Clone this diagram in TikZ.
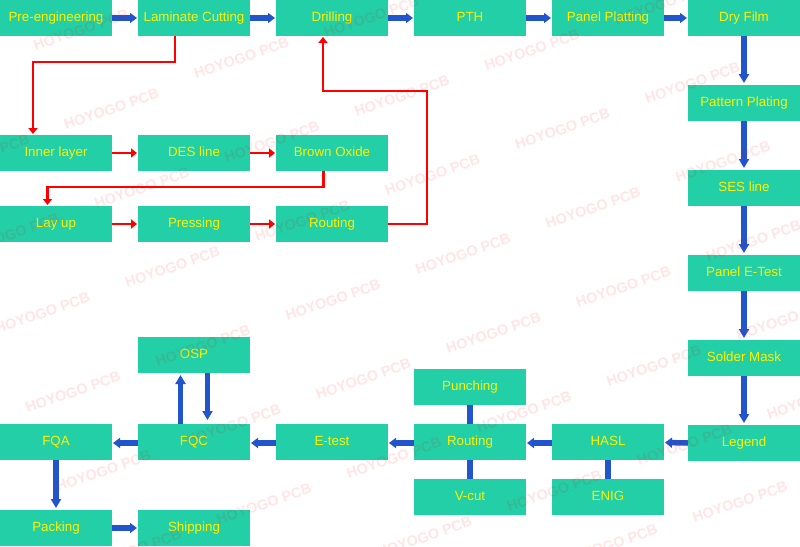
\documentclass[tikz,border=0pt]{standalone}
\usepackage{fontspec}
\setmainfont{Liberation Sans}
\usetikzlibrary{arrows.meta}
\definecolor{boxteal}{HTML}{22CFA6}
\definecolor{flowblue}{HTML}{2255CC}
\tikzset{
  stage/.style={fill=boxteal,draw=none,minimum width=112pt,minimum height=36pt,inner sep=0pt,outer sep=0pt,
    text=yellow,font=\fontsize{13.33}{15}\selectfont,text height=9.5pt,text depth=2.5pt,anchor=north west},
  bluearrow/.style={draw=flowblue,line width=5.5pt,-{Triangle[length=7pt,width=10pt]},shorten >=1pt},
  bluedown/.style={draw=flowblue,line width=5.5pt,-{Triangle[length=9pt,width=10pt]},shorten >=2pt},
  bluelink/.style={draw=flowblue,line width=6pt},
  redarrow/.style={draw=red,line width=2.2pt,-{Triangle[length=6pt,width=9pt]},shorten >=1pt},
  mark text/.style={text=red,opacity=.10,rotate=19,font=\bfseries\fontsize{14.4}{16}\selectfont,inner sep=0pt}
}
\begin{document}
\begin{tikzpicture}[x=1pt,y=-1pt]
\useasboundingbox (0,0) rectangle (800,546);
% stages
\node[stage] (pre) at (0,0) {Pre-engineering};
\node[stage] (lam) at (138,0) {Laminate Cutting};
\node[stage] (dri) at (276,0) {Drilling};
\node[stage] (pth) at (414,0) {PTH};
\node[stage] (pan) at (552,0) {Panel Platting};
\node[stage] (dry) at (688,0) {Dry Film};
\node[stage] (pat) at (688,85) {Pattern Plating};
\node[stage] (ses) at (688,170) {SES line};
\node[stage] (pet) at (688,255) {Panel E-Test};
\node[stage] (sol) at (688,340) {Solder Mask};
\node[stage] (leg) at (688,425) {Legend};
\node[stage] (inn) at (0,135) {Inner layer};
\node[stage] (des) at (138,135) {DES line};
\node[stage] (bro) at (276,135) {Brown Oxide};
\node[stage] (lay) at (0,206) {Lay up};
\node[stage] (pre2) at (138,206) {Pressing};
\node[stage] (rou1) at (276,206) {Routing};
\node[stage] (osp) at (138,337) {OSP};
\node[stage] (pun) at (414,369) {Punching};
\node[stage] (fqa) at (0,424) {FQA};
\node[stage] (fqc) at (138,424) {FQC};
\node[stage] (ete) at (276,424) {E-test};
\node[stage] (rou2) at (414,424) {Routing};
\node[stage] (has) at (552,424) {HASL};
\node[stage] (vcu) at (414,479) {V-cut};
\node[stage] (eni) at (552,479) {ENIG};
\node[stage] (pac) at (0,510) {Packing};
\node[stage] (shi) at (138,510) {Shipping};
% blue top row
\draw[bluearrow] (pre.east) -- (lam.west);
\draw[bluearrow] (lam.east) -- (dri.west);
\draw[bluearrow] (dri.east) -- (pth.west);
\draw[bluearrow] (pth.east) -- (pan.west);
\draw[bluearrow] (pan.east) -- (dry.west);
% blue right column
\draw[bluedown] (dry.south) -- (pat.north);
\draw[bluedown] (pat.south) -- (ses.north);
\draw[bluedown] (ses.south) -- (pet.north);
\draw[bluedown] (pet.south) -- (sol.north);
\draw[bluedown] (sol.south) -- (leg.north);
% blue bottom flow
\draw[bluearrow] (leg.west) -- ([yshift=-0.5pt]has.east);
\draw[bluearrow] ([yshift=-1pt]has.west) -- ([yshift=-1pt]rou2.east);
\draw[bluearrow] ([yshift=-1pt]rou2.west) -- ([yshift=-1pt]ete.east);
\draw[bluearrow] ([yshift=-1pt]ete.west) -- ([yshift=-1pt]fqc.east);
\draw[bluearrow] ([yshift=-1pt]fqc.west) -- ([yshift=-1pt]fqa.east);
\draw[bluedown] ([xshift=-13.5pt]fqc.north) -- ([xshift=-13.5pt]osp.south);
\draw[bluedown,shorten >=4pt] ([xshift=13.5pt]osp.south) -- ([xshift=13.5pt]fqc.north);
\draw[bluedown] (fqa.south) -- (pac.north);
\draw[bluearrow] (pac.east) -- (shi.west);
% blue plain links
\draw[bluelink] (pun.south) -- (rou2.north);
\draw[bluelink] (rou2.south) -- (vcu.north);
\draw[bluelink] (has.south) -- (eni.north);
% red flow
\coordinate (c1) at (175,62);
\coordinate (c2) at (33,62);
\draw[redarrow] (lam.south -| c1) -- (c1) -- (c2) -- (inn.north -| c2);
\draw[redarrow] (inn.east) -- (des.west);
\draw[redarrow] (des.east) -- (bro.west);
\coordinate (c3) at (323.5,187);
\coordinate (c4) at (47.5,187);
\draw[redarrow] (bro.south -| c3) -- (c3) -- (c4) -- (lay.north -| c4);
\draw[redarrow] (lay.east) -- (pre2.west);
\draw[redarrow] (pre2.east) -- (rou1.west);
\coordinate (c5) at (427,224);
\coordinate (c6) at (427,91);
\coordinate (c7) at (323,91);
\draw[redarrow] (rou1.east) -- (c5) -- (c6) -- (c7) -- (dri.south -| c7);
% watermark
\begin{scope}
\clip (0,0) rectangle (800,546);
\foreach \wx/\wy [count=\wi] in {81/30,-49/76,371.5/17,241.5/58,111.5/109,-18/155,
  402/96,532/50,662/4,272/142,142/188,12/234,
  432.5/175,562.5/129,692.5/83,302.5/221,172.5/267,42.5/313,
  463/254,593/208,723/162,333/300,203/346,73/392,
  493.5/333,623.5/287,753.5/241,363.5/379,233.5/425,103.5/471,
  524/412,654/366,784/320,394/458,264/504,134/550,
  554.5/491,684.5/445,814.5/399,424.5/537,610/545,740/502}
  \node[mark text] (wm\wi) at (\wx,\wy) {HOYOGO PCB};
\end{scope}
\end{tikzpicture}
\end{document}
